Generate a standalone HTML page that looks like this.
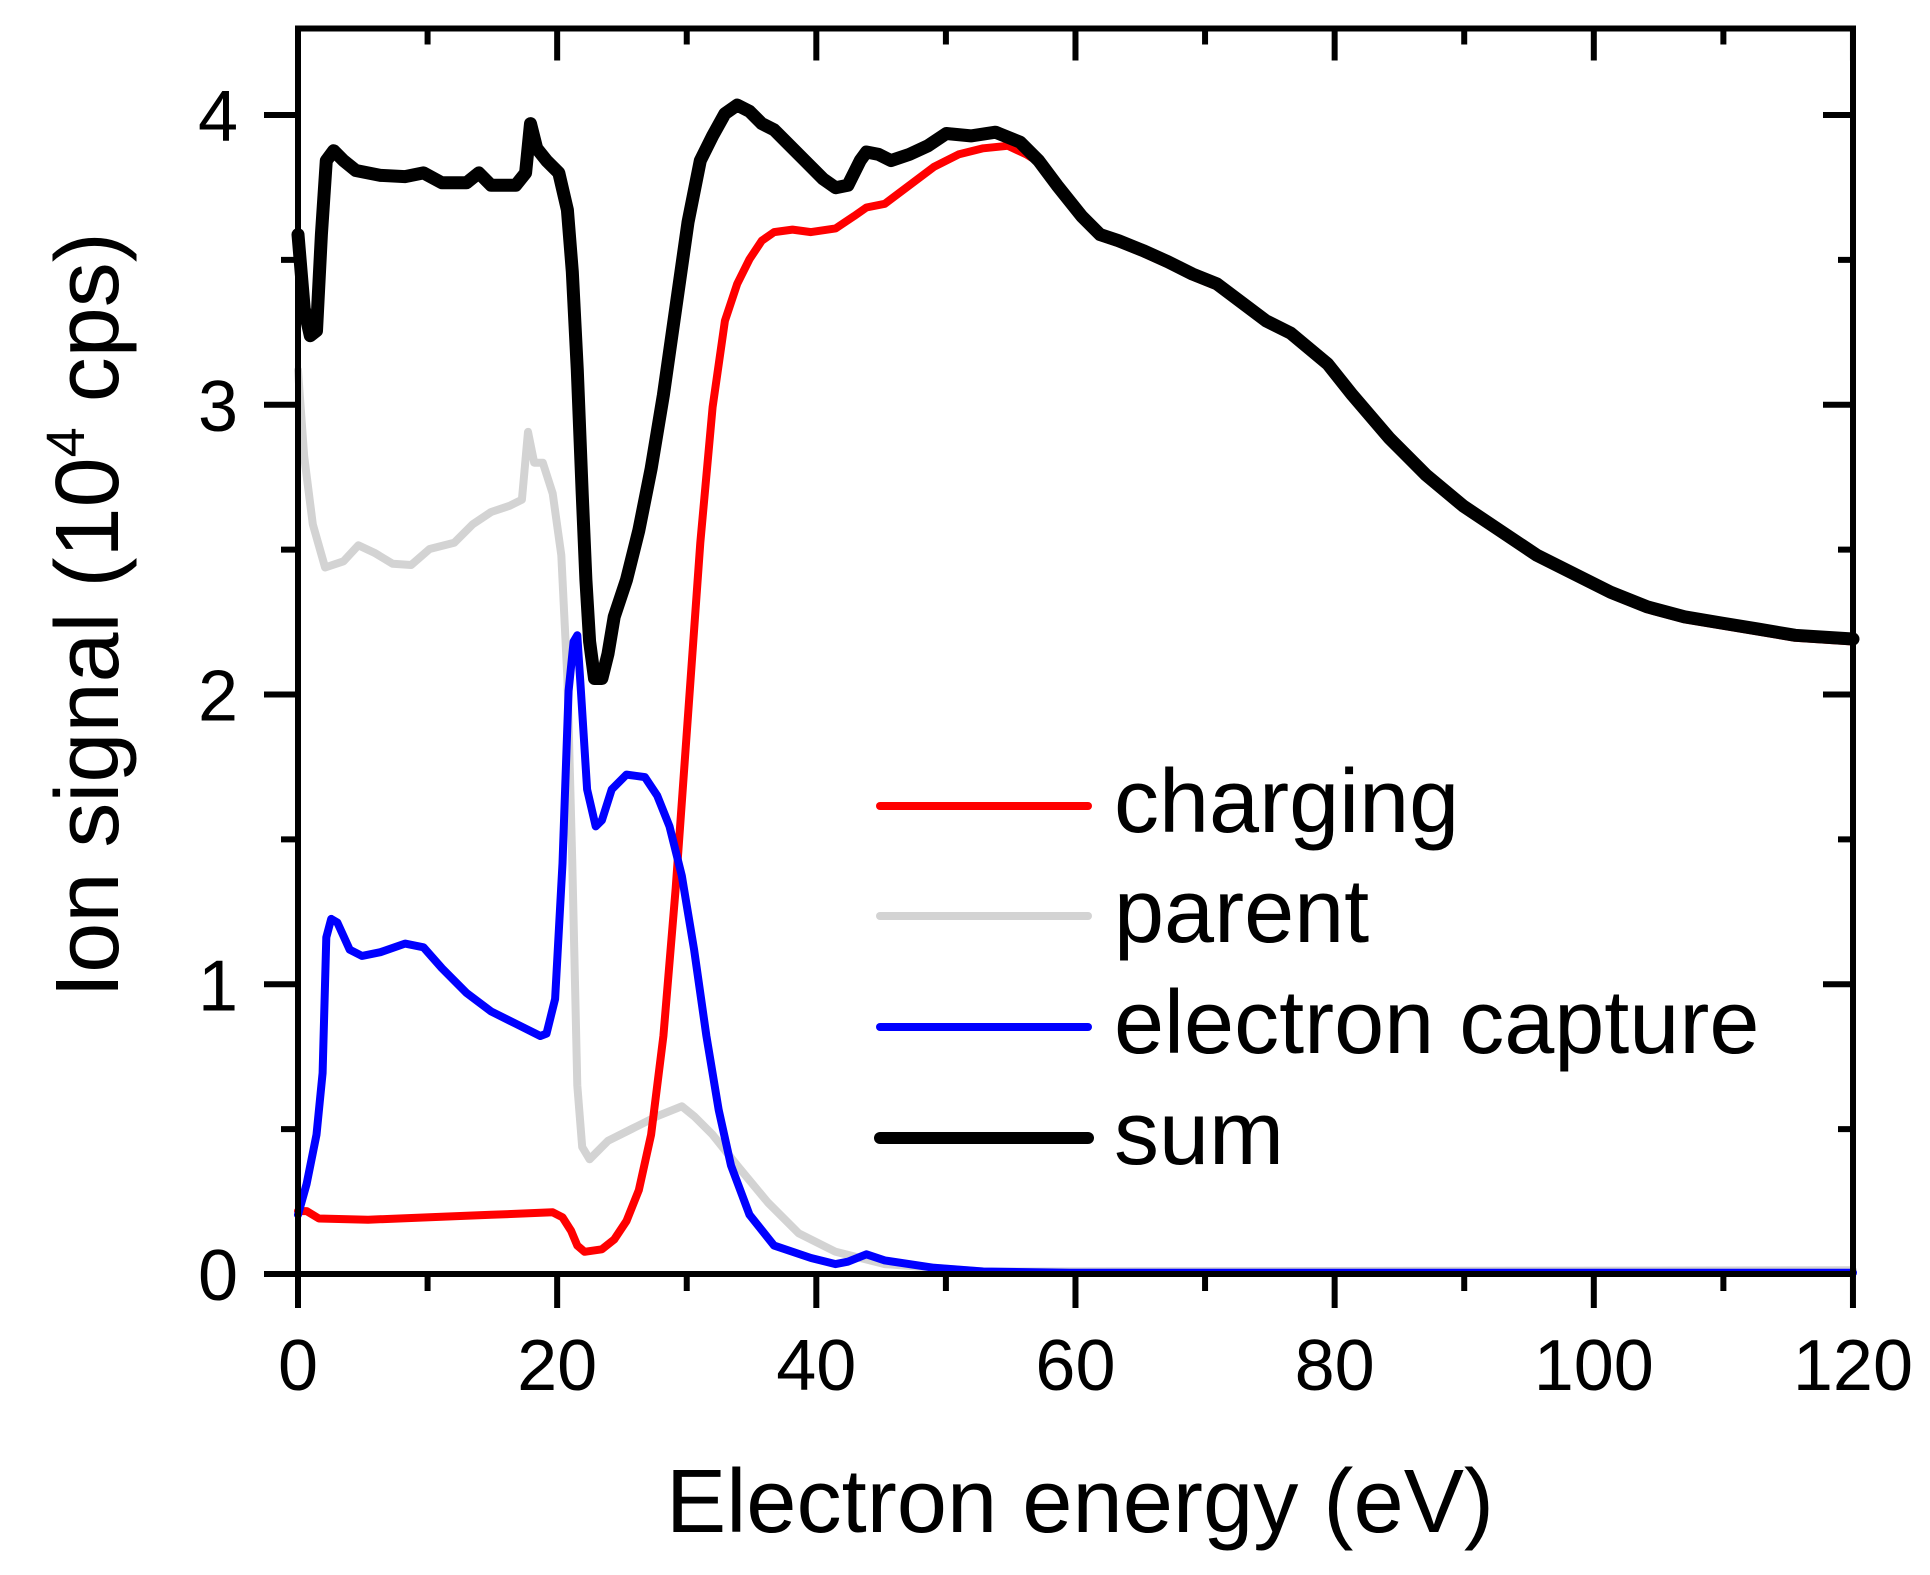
<!DOCTYPE html>
<html><head><meta charset="utf-8"><style>
html,body{margin:0;padding:0;background:#fff;}
svg{display:block;}
text{font-family:"Liberation Sans",Arial,sans-serif;fill:#000;}
</style></head><body>
<svg id="s" width="1930" height="1575" xmlns="http://www.w3.org/2000/svg">
<g id="curves" fill="none" stroke-linejoin="round" stroke-linecap="round"></g>
<g id="axes" stroke="#000" stroke-width="6" fill="none"></g>
<g id="labels" font-size="72"></g>
<text x="1080" y="1532" font-size="90" text-anchor="middle" textLength="828" lengthAdjust="spacingAndGlyphs">Electron energy (eV)</text>
<text transform="translate(118,615) rotate(-90)" font-size="90" text-anchor="middle">Ion signal (10<tspan dy="-34" font-size="54">4</tspan><tspan dy="34"> cps)</tspan></text>
<g stroke-linecap="round">
<line x1="880" y1="806" x2="1088" y2="806" stroke="#ff0000" stroke-width="8"/>
<line x1="880" y1="916" x2="1088" y2="916" stroke="#d3d3d3" stroke-width="8"/>
<line x1="880" y1="1027" x2="1088" y2="1027" stroke="#0000ff" stroke-width="8"/>
<line x1="880" y1="1138" x2="1088" y2="1138" stroke="#000" stroke-width="12"/>
</g>
<g font-size="90">
<text x="1114" y="832">charging</text>
<text x="1114" y="942">parent</text>
<text x="1114" y="1053">electron capture</text>
<text x="1114" y="1164">sum</text>
</g>
</svg>
<script>
var NS="http://www.w3.org/2000/svg";
function X(d){return 298+(d-243)*1.2302;}
function Y(d){return 1274-(1033-d)*1.233;}
function path(pts,col,w){var p=document.createElementNS(NS,"path");var s="";
for(var i=0;i<pts.length;i++){s+=(i?"L":"M")+X(pts[i][0]).toFixed(1)+","+Y(pts[i][1]).toFixed(1);}
p.setAttribute("d",s);p.setAttribute("stroke",col);p.setAttribute("stroke-width",w);document.getElementById("curves").appendChild(p);}
var tail=[[860,150],[880,175],[895,190],[910,195],[930,203],[950,212],[970,222],[990,230],[1010,245],[1030,260],[1050,270],[1080,295],[1100,320],[1130,355],[1160,385],[1190,410],[1220,430],[1250,450],[1280,465],[1310,480],[1340,492],[1370,500],[1400,505],[1430,510],[1460,515],[1507,518]];
var sum=[[243,190],[248,250],[253,272],[258,268],[262,190],[266,130],[272,122],[280,130],[290,138],[310,142],[330,143],[345,140],[360,148],[380,148],[390,140],[400,150],[420,150],[428,140],[432,100],[437,120],[445,130],[455,140],[462,170],[466,220],[470,300],[474,400],[477,470],[480,520],[484,550],[490,550],[495,530],[500,500],[510,470],[520,430],[530,380],[540,320],[550,250],[560,180],[570,130],[580,110],[590,92],[600,85],[610,90],[620,100],[630,105],[640,115],[655,130],[670,145],[680,152],[690,150],[700,130],[705,123],[715,125],[725,130],[740,125],[755,118],[770,108],[790,110],[810,107],[830,115],[845,130]].concat(tail);
var red=[[243,982],[250,982],[260,988],[300,989],[350,987],[400,985],[450,983],[458,987],[465,998],[470,1010],[476,1015],[490,1013],[500,1005],[510,990],[520,965],[530,920],[540,840],[550,720],[560,580],[570,440],[580,330],[590,260],[600,230],[610,210],[620,195],[630,188],[645,186],[660,188],[680,185],[695,175],[705,168],[720,165],[740,150],[760,135],[780,125],[800,120],[820,118],[835,125],[848,133]].concat(tail.map(function(p){return [p[0],p[1]+2];}));
var blue=[[243,985],[250,960],[258,920],[263,870],[266,760],[270,745],[275,748],[285,770],[295,775],[310,772],[330,765],[345,768],[360,785],[380,805],[400,820],[420,830],[440,840],[445,838],[452,810],[458,700],[463,560],[467,520],[470,515],[473,560],[478,640],[485,670],[490,665],[498,640],[510,628],[525,630],[535,645],[545,670],[555,710],[565,770],[575,840],[585,900],[595,945],[610,985],[630,1010],[660,1020],[680,1025],[690,1023],[705,1017],[720,1022],[760,1028],[800,1031],[870,1032],[1507,1032]];
var gray=[[243,300],[248,370],[255,425],[265,460],[280,455],[292,442],[305,448],[320,457],[335,458],[350,445],[370,440],[385,425],[400,415],[415,410],[425,405],[430,350],[435,375],[442,375],[450,400],[457,450],[462,550],[466,700],[470,880],[474,930],[480,940],[495,925],[515,915],[535,905],[555,897],[565,905],[580,920],[600,945],[625,975],[650,1000],[680,1015],[720,1025],[800,1031],[1507,1030]];
path(gray,"#d3d3d3",8);path(red,"#ff0000",8);path(blue,"#0000ff",8);path(sum,"#000",13);
var ax=document.getElementById("axes"),lb=document.getElementById("labels");
function ln(a,b,c,d){var l=document.createElementNS(NS,"line");l.setAttribute("x1",a);l.setAttribute("y1",b);l.setAttribute("x2",c);l.setAttribute("y2",d);ax.appendChild(l);}
function tx(x,y,t,anc){var e=document.createElementNS(NS,"text");e.setAttribute("x",x);e.setAttribute("y",y);e.setAttribute("text-anchor",anc);e.textContent=t;lb.appendChild(e);}
var L=298,R=1853,T=28.5,B=1274;
var r=document.createElementNS(NS,"rect");r.setAttribute("x",L);r.setAttribute("y",T);r.setAttribute("width",R-L);r.setAttribute("height",B-T);ax.appendChild(r);
for(var v=0;v<=120;v+=10){var x=L+v*12.958;var maj=v%20==0;
ln(x,B,x,B+(maj?34:17));ln(x,T,x,T+(maj?32:16));if(maj)tx(x,1390,String(v),"middle");}
for(var k=0;k<=8;k++){var val=k*0.5;var y=B-val*289.75;var maj=k%2==0;
ln(L,y,L-(maj?34:17),y);ln(R,y,R-(maj?30:15),y);if(maj)tx(238,y+26,String(val),"end");}
</script>
</body></html>
